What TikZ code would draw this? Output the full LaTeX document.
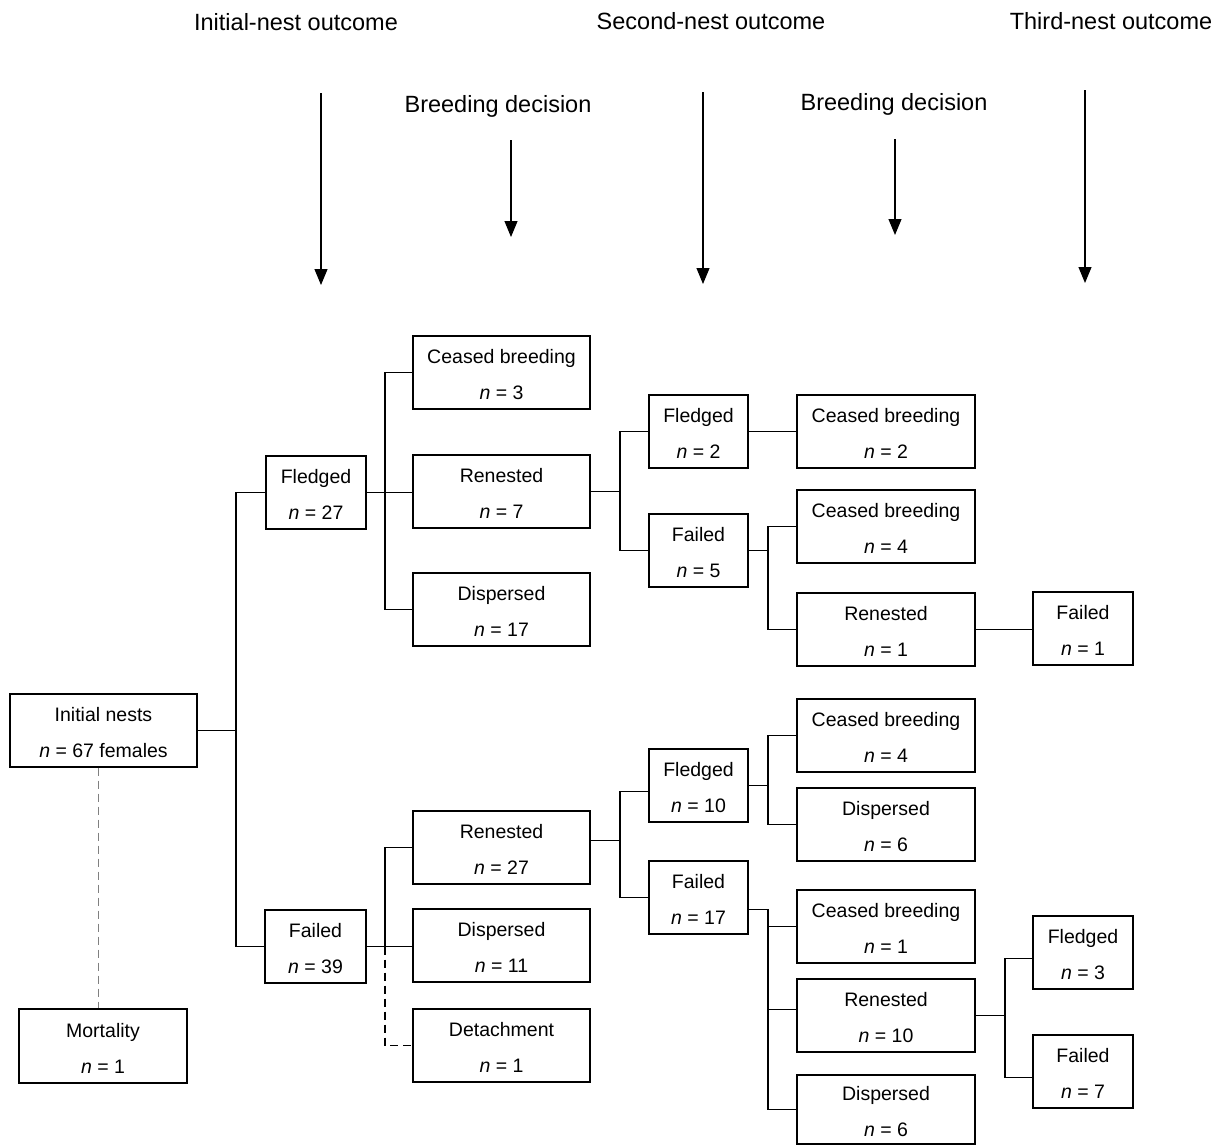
\documentclass[tikz,border=0pt]{standalone}
\usepackage{fontspec}
\setmainfont{Liberation Sans}
\usetikzlibrary{arrows.meta}
\newcommand\bxn[6]{\node[box,minimum width={(#4-#2)*1pt},minimum height={(#5-#3)*1pt}] (#1) at ({(#2+#4)/2},{(#3+#5)/2}) {#6};}
\newcommand\nn{{\itshape n}}
\newcommand\tl{\rule{0pt}{18pt}}
\begin{document}
\begin{tikzpicture}[x=1pt,y=-1pt,
  box/.style={draw, line width=1.15pt, inner sep=0pt, align=center, font=\fontsize{19.5}{23}\selectfont},
  conn/.style={line width=1.15pt},
  hdr/.style={font=\fontsize{23.5}{28}\selectfont, inner sep=0pt, anchor=base},
  arr/.style={line width=1.1pt, -{Triangle[length=16pt,width=13pt]}},
  mort/.style={line width=1pt, gray, dash pattern=on 8pt off 5pt},
  dconn/.style={line width=1.15pt, dash pattern=on 8pt off 5pt}
]
\fill[white] (0,0) rectangle (1229,1146);
\useasboundingbox (0,0) rectangle (1229,1146);

% headers
\node[hdr] (h1) at (296,30) {Initial-nest outcome};
\node[hdr] (h2) at (711,29) {Second-nest outcome};
\node[hdr] (h3) at (1111,29) {Third-nest outcome};
\node[hdr] (h4) at (498,112) {Breeding decision};
\node[hdr] (h5) at (894,110) {Breeding decision};

% arrows
\coordinate (a1s) at (321,93);  \coordinate (a1e) at (321,285);
\coordinate (a2s) at (511,140); \coordinate (a2e) at (511,237);
\coordinate (a3s) at (703,92);  \coordinate (a3e) at (703,284);
\coordinate (a4s) at (895,139); \coordinate (a4e) at (895,235);
\coordinate (a5s) at (1085,90); \coordinate (a5e) at (1085,283);
\draw[arr] (a1s) -- (a1e);
\draw[arr] (a2s) -- (a2e);
\draw[arr] (a3s) -- (a3e);
\draw[arr] (a4s) -- (a4e);
\draw[arr] (a5s) -- (a5e);

% boxes
\bxn{IN}{10}{694}{197}{767}{\tl Initial nests\\[13pt]\nn{} = 67 females}
\bxn{M}{19}{1009}{187}{1083}{\tl Mortality\\[13pt]\nn{} = 1}
\bxn{F27}{266}{456}{366}{529}{\tl Fledged\\[13pt]\nn{} = 27}
\bxn{C3}{413}{336}{590}{409}{\tl Ceased breeding\\[13pt]\nn{} = 3}
\bxn{R7}{413}{455}{590}{528}{\tl Renested\\[13pt]\nn{} = 7}
\bxn{D17}{413}{573}{590}{646}{\tl Dispersed\\[13pt]\nn{} = 17}
\bxn{F2}{649}{395}{748}{468}{\tl Fledged\\[13pt]\nn{} = 2}
\bxn{C2}{797}{395}{975}{468}{\tl Ceased breeding\\[13pt]\nn{} = 2}
\bxn{Fa5}{649}{514}{748}{587}{\tl Failed\\[13pt]\nn{} = 5}
\bxn{C4}{797}{490}{975}{563}{\tl Ceased breeding\\[13pt]\nn{} = 4}
\bxn{R1}{797}{593}{975}{666}{\tl Renested\\[13pt]\nn{} = 1}
\bxn{Fa1}{1033}{592}{1133}{665}{\tl Failed\\[13pt]\nn{} = 1}
\bxn{F39}{265}{910}{366}{983}{\tl Failed\\[13pt]\nn{} = 39}
\bxn{R27}{413}{811}{590}{884}{\tl Renested\\[13pt]\nn{} = 27}
\bxn{D11}{413}{909}{590}{982}{\tl Dispersed\\[13pt]\nn{} = 11}
\bxn{Det}{413}{1009}{590}{1082}{\tl Detachment\\[13pt]\nn{} = 1}
\bxn{F10}{649}{749}{748}{822}{\tl Fledged\\[13pt]\nn{} = 10}
\bxn{Fa17}{649}{861}{748}{934}{\tl Failed\\[13pt]\nn{} = 17}
\bxn{C4b}{797}{699}{975}{772}{\tl Ceased breeding\\[13pt]\nn{} = 4}
\bxn{D6a}{797}{788}{975}{861}{\tl Dispersed\\[13pt]\nn{} = 6}
\bxn{C1}{797}{890}{975}{963}{\tl Ceased breeding\\[13pt]\nn{} = 1}
\bxn{R10}{797}{979}{975}{1052}{\tl Renested\\[13pt]\nn{} = 10}
\bxn{D6b}{797}{1075}{975}{1144}{\tl Dispersed\\[13pt]\nn{} = 6}
\bxn{F3}{1033}{916}{1133}{989}{\tl Fledged\\[13pt]\nn{} = 3}
\bxn{Fa7}{1033}{1035}{1133}{1108}{\tl Failed\\[13pt]\nn{} = 7}

% branch columns
\coordinate (t1) at (236,0);
\coordinate (b1) at (385,0);
\coordinate (b2) at (620,0);
\coordinate (b3) at (768,0);
\coordinate (b4) at (1005,0);

% initial nests
\draw[conn] (IN.east) -- (t1 |- IN.east);
\draw[conn] (F27.west) -| (t1 |- IN.east) |- (F39.west);
\draw[mort] ([xshift=-5pt]IN.south) -- ([xshift=-5pt]IN.south |- M.north);

% fledged 27
\draw[conn] (F27.east) -- (F27.east -| R7.west);
\draw[conn] (C3.west) -| (b1 |- F27.east) |- (D17.west);

% failed 39
\draw[conn] (F39.east) -- (F39.east -| D11.west);
\draw[conn] (R27.west) -| (b1 |- F39.east);
\draw[dconn] (b1 |- F39.east) |- (Det.west);

% renested 7
\draw[conn] (R7.east) -- (b2 |- R7.east);
\draw[conn] (F2.west) -| (b2 |- R7.east) |- (Fa5.west);
\draw[conn] (F2.east) -- (F2.east -| C2.west);
\draw[conn] (Fa5.east) -- (b3 |- Fa5.east);
\draw[conn] (C4.west) -| (b3 |- Fa5.east) |- (R1.west);
\draw[conn] (R1.east) -- (R1.east -| Fa1.west);

% renested 27
\coordinate (r27o) at ([yshift=7pt]R27.east);
\draw[conn] (r27o) -- (b2 |- r27o);
\draw[conn] ([yshift=-6pt]F10.west) -| (b2 |- r27o) |- (Fa17.west);
\draw[conn] (F10.east) -- (b3 |- F10.east);
\draw[conn] (C4b.west) -| (b3 |- F10.east) |- (D6a.west);
\coordinate (fa17o) at ([yshift=-12pt]Fa17.east);
\draw[conn] (fa17o) -| (b3 |- D6b.west) -- (D6b.west);
\draw[conn] (b3 |- C1.west) -- (C1.west);
\coordinate (r10i) at ([yshift=6pt]R10.west);
\draw[conn] (r10i) -- (b3 |- r10i);
\draw[conn] (R10.east) -- (b4 |- R10.east);
\draw[conn] ([yshift=-6pt]F3.west) -| (b4 |- R10.east) |- ([yshift=-6pt]Fa7.west);
\end{tikzpicture}
\end{document}
